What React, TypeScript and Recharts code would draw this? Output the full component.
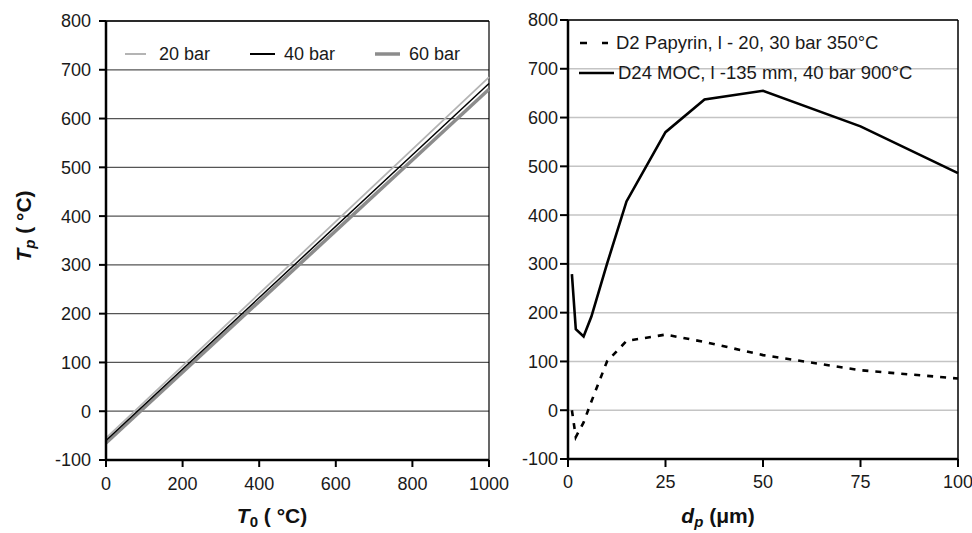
import { LineChart, Line, XAxis, YAxis, CartesianGrid, ReferenceLine } from 'recharts';

// left panel: particle temperature vs gas temperature
const t0Values = [0, 1000];
const bar20 = [-55, 685];
const bar40 = [-60, 672];
const bar60 = [-65, 660];

// right panel: particle temperature vs particle diameter
const dpValues = [1, 2, 4, 6, 10, 15, 25, 35, 50, 75, 100];
const papyrin = [0, -55, -25, 18, 100, 142, 155, 140, 113, 82, 65];
const moc = [279, 166, 151, 192, 300, 428, 570, 637, 655, 582, 486];

const yTicks = [-100, 0, 100, 200, 300, 400, 500, 600, 700, 800];
const t0Ticks = [0, 200, 400, 600, 800, 1000];
const dpTicks = [0, 25, 50, 75, 100];

const FONT = '"Liberation Sans", Arial, sans-serif';
const tickStyle = { fontSize: 18, fill: '#1a1a1a', fontFamily: FONT };

const leftData = t0Values.map((x, i) => ({ t0: x, bar20: bar20[i], bar40: bar40[i], bar60: bar60[i] }));
const rightData = dpValues.map((x, i) => ({ dp: x, papyrin: papyrin[i], moc: moc[i] }));

const titleStyle: React.CSSProperties = {
  position: 'absolute',
  fontFamily: FONT,
  fontWeight: 'bold',
  fontSize: 21,
  lineHeight: '24px',
  color: '#111',
  whiteSpace: 'nowrap',
};

const legendText: React.CSSProperties = {
  position: 'absolute',
  fontFamily: FONT,
  fontSize: 18,
  color: '#1a1a1a',
  whiteSpace: 'nowrap',
  lineHeight: '20px',
};

const subStyle: React.CSSProperties = { fontSize: 15, verticalAlign: '-4px', lineHeight: 0 };

export default function App() {
  return (
    <div style={{ position: 'absolute', left: 0, top: 0, width: 972, height: 533, background: '#fff', overflow: 'hidden' }}>
      <div style={{ position: 'absolute', left: 500, top: 0, width: 472, height: 533, background: '#fff' }}>
        <LineChart width={472} height={533} data={rightData} margin={{ top: 20, right: 14, bottom: 34, left: 0 }}>
          <CartesianGrid vertical={false} stroke="#c4c4c4" strokeWidth={1.5} />
          <XAxis
            type="number"
            dataKey="dp"
            domain={[0, 100]}
            ticks={dpTicks}
            height={40}
            stroke="#000"
            strokeWidth={2.5}
            tickSize={8}
            tickMargin={8}
            tick={tickStyle}
            tickLine={{ stroke: '#000', strokeWidth: 2 }}
            interval={0}
          />
          <YAxis
            type="number"
            domain={[-100, 800]}
            ticks={yTicks}
            width={68}
            stroke="#000"
            strokeWidth={2.5}
            tickSize={8}
            tickMargin={2}
            tick={tickStyle}
            tickLine={{ stroke: '#000', strokeWidth: 2 }}
            interval={0}
          />
          <ReferenceLine y={800} stroke="#000" strokeWidth={1.5} />
          <ReferenceLine x={100} stroke="#000" strokeWidth={1.5} />
          <Line dataKey="papyrin" stroke="#000" strokeWidth={2.6} strokeDasharray="6 7" dot={false} isAnimationActive={false} />
          <Line dataKey="moc" stroke="#000" strokeWidth={2.6} dot={false} isAnimationActive={false} />
        </LineChart>
      </div>

      <div style={{ position: 'absolute', left: 0, top: 0, width: 520, height: 533 }}>
        <LineChart width={520} height={533} data={leftData} margin={{ top: 21, right: 31, bottom: 33, left: 0 }}>
          <CartesianGrid vertical={false} stroke="#555" strokeWidth={1.2} />
          <XAxis
            type="number"
            dataKey="t0"
            domain={[0, 1000]}
            ticks={t0Ticks}
            height={40}
            stroke="#000"
            strokeWidth={2.5}
            tickSize={7}
            tickMargin={10}
            tick={tickStyle}
            tickLine={{ stroke: '#000', strokeWidth: 2 }}
            interval={0}
          />
          <YAxis
            type="number"
            domain={[-100, 800]}
            ticks={yTicks}
            width={106}
            stroke="#000"
            strokeWidth={2.5}
            tickSize={7}
            tickMargin={8}
            tick={tickStyle}
            tickLine={{ stroke: '#000', strokeWidth: 2 }}
            interval={0}
          />
          <ReferenceLine y={800} stroke="#000" strokeWidth={1.5} />
          <ReferenceLine x={1000} stroke="#000" strokeWidth={1.2} />
          <Line dataKey="bar60" stroke="#8c8c8c" strokeWidth={3.5} dot={false} isAnimationActive={false} />
          <Line dataKey="bar20" stroke="#b4b4b4" strokeWidth={1.8} dot={false} isAnimationActive={false} />
          <Line dataKey="bar40" stroke="#000" strokeWidth={1.5} dot={false} isAnimationActive={false} />
        </LineChart>
      </div>

      {/* left legend */}
      <svg style={{ position: 'absolute', left: 0, top: 0 }} width={500} height={80}>
        <line x1={125} y1={54} x2={146} y2={54} stroke="#b4b4b4" strokeWidth={2} />
        <line x1={250} y1={54} x2={275} y2={54} stroke="#000" strokeWidth={2} />
        <line x1={375} y1={54} x2={400} y2={54} stroke="#8c8c8c" strokeWidth={3.5} />
      </svg>
      <div style={{ ...legendText, left: 159, top: 44 }}>20 bar</div>
      <div style={{ ...legendText, left: 284, top: 44 }}>40 bar</div>
      <div style={{ ...legendText, left: 409, top: 44 }}>60 bar</div>

      {/* right legend */}
      <svg style={{ position: 'absolute', left: 570, top: 30 }} width={50} height={60}>
        <line x1={10} y1={13} x2={38} y2={13} stroke="#000" strokeWidth={2.6} strokeDasharray="7 15" />
        <line x1={9} y1={43} x2={44} y2={43} stroke="#000" strokeWidth={2.6} />
      </svg>
      <div style={{ ...legendText, fontSize: 18.5, left: 616, top: 33 }}>D2 Papyrin, l - 20, 30 bar 350°C</div>
      <div style={{ ...legendText, fontSize: 18.5, left: 618, top: 63 }}>D24 MOC, l -135 mm, 40 bar 900°C</div>

      {/* axis titles */}
      <div style={{ ...titleStyle, left: 24, top: 226, transform: 'translate(-50%, -50%) rotate(-90deg)' }}>
        <i>T</i><sub style={subStyle}><i>p</i></sub> ( °C)
      </div>
      <div style={{ ...titleStyle, left: 272, top: 516, transform: 'translate(-50%, -50%)' }}>
        <i>T</i><sub style={subStyle}>0</sub> ( °C)
      </div>
      <div style={{ ...titleStyle, left: 718, top: 516, transform: 'translate(-50%, -50%)' }}>
        <i>d</i><sub style={subStyle}><i>p</i></sub> (μm)
      </div>
    </div>
  );
}
